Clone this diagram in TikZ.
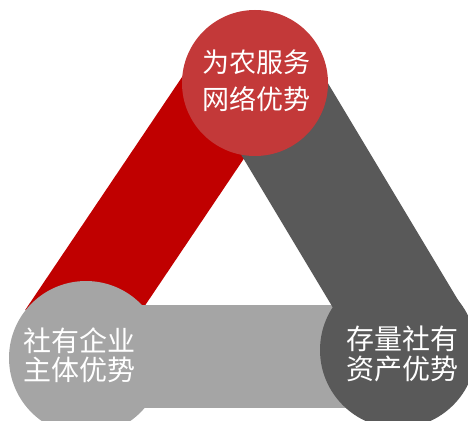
\documentclass[tikz,border=0pt]{standalone}
\usepackage{fontspec}
\newfontfamily\cjk{Noto Sans CJK SC}
\definecolor{bandred}{RGB}{192,0,0}
\definecolor{topred}{RGB}{195,57,57}
\definecolor{darkgrey}{RGB}{89,89,89}
\definecolor{lightgrey}{RGB}{165,165,165}
\begin{document}
\begin{tikzpicture}[x=1pt,y=-1pt,
  disc/.style={circle, inner sep=0pt, minimum size=#1, draw=none},
  lbl/.style={text=white, align=center, inner sep=0pt}]
\useasboundingbox (0,0) rectangle (468,420);
\clip (0,0) rectangle (468,420);
% red band (left side)
\fill[bandred] (193.5,60) -- (310.3,60) -- (142,310) -- (25.2,310) -- cycle;
% light band (bottom side)
\fill[lightgrey] (86,305) rectangle (398,408);
% dark band (right side)
\fill[darkgrey] (226.3,130) -- (320,70) -- (482,340) -- (352.3,340) -- cycle;
% circles
\node[disc=154pt, fill=lightgrey] (cleft) at (86,358) {};
\node[disc=156pt, fill=darkgrey] (cright) at (398,350) {};
\node[disc=146pt, fill=topred] (ctop) at (255,83) {};
% labels
\node[lbl, font=\cjk\fontsize{27}{37}\selectfont] (ttop) at (256,81) {为农服务\\网络优势};
\node[lbl, font=\cjk\fontsize{28}{29.5}\selectfont] (tleft) at (79,355) {社有企业\\主体优势};
\node[lbl, font=\cjk\fontsize{28}{29.5}\selectfont] (tright) at (402,354) {存量社有\\资产优势};
\end{tikzpicture}
\end{document}
